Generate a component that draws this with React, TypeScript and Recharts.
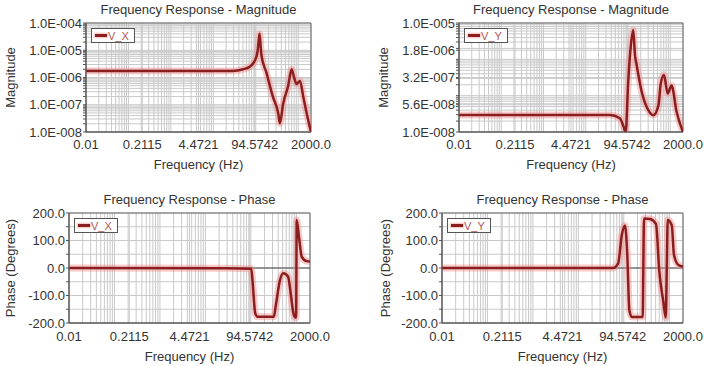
import React from 'react';
import {
  LineChart,
  Line,
  XAxis,
  YAxis,
  CartesianGrid,
  ReferenceLine,
  ReferenceArea
} from 'recharts';

// x axis (Hz), log scale
const xTicks = [0.01, 0.2115, 4.4721, 94.5742, 2000];
const xTickLabels = ['0.01', '0.2115', '4.4721', '94.5742', '2000.0'];

// y ticks
const magXTicks = [1e-8, 1e-7, 1e-6, 1e-5, 1e-4];
const magYTicks = [1e-8, 5.6234e-8, 3.1623e-7, 1.7783e-6, 1e-5];
const phaseTicks = [-200, -100, 0, 100, 200];

// Magnitude V_X
const magXFreq = [0.01, 28, 50, 72, 94, 110, 118, 123, 135, 178, 255, 339, 369, 442, 580, 698, 800, 912, 1100, 1320, 1585, 2000];
const magXValue = [1.75e-6, 1.75e-6, 2.0e-6, 2.5e-6, 4e-6, 9e-6, 2.5e-5, 4e-5, 7e-6, 1.5e-6, 1.9e-7, 4.8e-8, 2.1e-8, 1.1e-7, 5e-7, 2e-6, 1e-6, 5.8e-7, 7.5e-7, 1.9e-7, 4.8e-8, 1e-8];

// Magnitude V_Y
const magYFreq = [0.01, 37, 64, 77, 88, 101, 117, 133, 146, 160, 210, 302, 398, 525, 590, 708, 870, 1070, 1410, 2000];
const magYValue = [2.95e-8, 2.95e-8, 2.4e-8, 1.5e-8, 1e-8, 2.4e-7, 2.5e-6, 6.4e-6, 1.3e-6, 7e-7, 1.3e-7, 4e-8, 2.9e-8, 5.5e-8, 2e-7, 3.7e-7, 1.15e-7, 1.9e-7, 3.6e-8, 1e-8];

// Phase V_X
const phaseXFreq = [0.01, 28, 102, 108, 125, 140, 320, 355, 437, 518, 660, 751, 851, 937, 990, 1020, 1150, 1320, 1700, 2000];
const phaseXValue = [0, -1, -3, -40, -165, -177, -177, -135, -44, -19, -32, -91, -159, -180, -180, 175, 110, 40, 25, 24];

// Phase V_Y
const phaseYFreq = [0.01, 58, 75, 90, 106, 119, 132, 149, 260, 268, 277, 376, 509, 603, 738, 834, 880, 923, 1130, 1268, 1578, 2000];
const phaseYValue = [0, 0, 17, 120, 155, 47, -153, -178, -178, 0, 180, 178, 160, -13, -122, -180, 0, 175, 156, 47, 11, 5];

const FONT = '"Liberation Sans", Arial, sans-serif';
const TEXT = '#333';
const LINE = '#8a1e1e';
const HALO = '#f08a8a';

// log gridline positions (1..9 x 10^n)
const logMinors = (lo: number, hi: number) => {
  const out: number[] = [];
  for (let n = -9; n <= 4; n++) {
    for (let k = 1; k <= 9; k++) {
      const v = Number((k * Math.pow(10, n)).toPrecision(6));
      if (v >= lo * 0.9999 && v <= hi * 1.0001) out.push(v);
    }
  }
  return out;
};

const merge = (a: number[], b: number[]) =>
  Array.from(new Set([...a, ...b])).sort((p, q) => p - q);

const fmtExp = (v: number) => {
  const [m, e] = v.toExponential(1).split('e');
  const n = Number(e);
  return `${m}E${n < 0 ? '-' : '+'}${String(Math.abs(n)).padStart(3, '0')}`;
};

const gridX = merge(xTicks, logMinors(0.01, 2000));
const xFormatter = (v: number) => {
  const i = xTicks.indexOf(v);
  return i >= 0 ? xTickLabels[i] : '';
};

const toRows = (f: number[], v: number[]) => f.map((x, i) => ({ f: x, v: v[i] }));

interface PanelProps {
  left: number;
  top: number;
  width: number;
  height: number;
  plot: { l: number; t: number; r: number; b: number };
  title: string;
  titleY: number;
  yLabel: string;
  yLabelX: number;
  xLabelOffset: number;
  xTickMargin: number;
  name: string;
  data: { f: number; v: number }[];
  yLog: boolean;
  yDomain: [number, number];
  yTicks: number[];
  yFormatter: (v: number) => string;
}

const Panel = (p: PanelProps) => {
  const { l, t, r, b } = p.plot;
  const plotW = r - l;
  return (
    <div style={{ position: 'absolute', left: p.left, top: p.top, width: p.width, height: p.height }}>
      <div
        style={{
          position: 'absolute',
          left: l,
          width: plotW,
          top: p.titleY - 8,
          height: 16,
          lineHeight: '16px',
          textAlign: 'center',
          fontSize: 13,
          color: TEXT,
          fontFamily: FONT
        }}
      >
        {p.title}
      </div>
      <LineChart
        width={p.width}
        height={p.height}
        data={p.data}
        margin={{ top: t, right: p.width - r, left: 0, bottom: 0 }}
        style={{ fontFamily: FONT }}
      >
        <CartesianGrid stroke="#c9c9c9" strokeWidth={1} />
        <XAxis
          dataKey="f"
          type="number"
          scale="log"
          domain={[0.01, 2000]}
          allowDataOverflow
          ticks={gridX}
          interval={0}
          tickFormatter={xFormatter}
          tickLine={false}
          tickSize={2}
          tickMargin={p.xTickMargin}
          height={p.height - b}
          axisLine={{ stroke: '#555' }}
          tick={{ fontSize: 13, fill: TEXT }}
          label={{ value: 'Frequency (Hz)', position: 'insideBottom', offset: p.xLabelOffset, fontSize: 13, fill: TEXT }}
        />
        <YAxis
          type="number"
          scale={p.yLog ? 'log' : 'linear'}
          domain={p.yDomain}
          allowDataOverflow
          ticks={p.yTicks}
          interval={0}
          tickFormatter={p.yFormatter}
          tickSize={3}
          tickMargin={1}
          width={l}
          axisLine={{ stroke: '#555' }}
          tickLine={{ stroke: '#555' }}
          tick={{ fontSize: 13, fill: TEXT }}
          label={{
            value: p.yLabel,
            angle: -90,
            position: 'insideLeft',
            offset: p.yLabelX,
            fontSize: 13,
            fill: TEXT,
            style: { textAnchor: 'middle' }
          }}
        />
        {!p.yLog && <ReferenceLine y={0} stroke="#444" strokeWidth={1} />}
        <ReferenceArea
          x1={0.01}
          x2={2000}
          y1={p.yDomain[0]}
          y2={p.yDomain[1]}
          fill="none"
          stroke="#666"
          strokeWidth={1}
          fillOpacity={0}
        />
        <Line
          dataKey="v"
          type="monotone"
          stroke={HALO}
          strokeOpacity={0.45}
          strokeWidth={7}
          dot={false}
          activeDot={false}
          isAnimationActive={false}
          legendType="none"
        />
        <Line
          dataKey="v"
          name={p.name}
          type="monotone"
          stroke={LINE}
          strokeWidth={2.5}
          dot={false}
          activeDot={false}
          isAnimationActive={false}
        />
      </LineChart>
      <div
        style={{
          position: 'absolute',
          left: l + 5,
          top: t + 5,
          width: 44,
          height: 15,
          border: '1px solid #555',
          background: '#fff',
          boxSizing: 'border-box',
          display: 'flex',
          alignItems: 'center',
          paddingLeft: 3,
          fontFamily: FONT,
          fontSize: 11,
          color: '#b05858'
        }}
      >
        <span
          style={{
            display: 'inline-block',
            width: 12,
            height: 3,
            background: LINE,
            boxShadow: '0 0 2px 1px rgba(240,138,138,0.6)',
            marginRight: 1
          }}
        />
        {p.name}
      </div>
    </div>
  );
};

const magXGrid = merge(magXTicks, logMinors(1e-8, 1e-4));
const magYGrid = merge(magYTicks, logMinors(1e-8, 1e-5));
const phaseGrid = [-200, -150, -100, -50, 0, 50, 100, 150, 200];

const magXFormatter = (v: number) => (magXTicks.indexOf(v) >= 0 ? fmtExp(v) : '');
const magYFormatter = (v: number) => (magYTicks.indexOf(v) >= 0 ? fmtExp(v) : '');
const phaseFormatter = (v: number) => (phaseTicks.indexOf(v) >= 0 ? v.toFixed(1) : '');

const App = () => {
  return (
    <div style={{ position: 'absolute', left: 0, top: 0, width: 711, height: 366, background: '#fff', overflow: 'hidden' }}>
      <Panel
        left={0}
        top={0}
        width={355}
        height={183}
        plot={{ l: 86, t: 23, r: 311, b: 132 }}
        title="Frequency Response - Magnitude"
        titleY={9.5}
        yLabel="Magnitude"
        yLabelX={10}
        xLabelOffset={14.5}
        xTickMargin={6}
        name="V_X"
        data={toRows(magXFreq, magXValue)}
        yLog
        yDomain={[1e-8, 1e-4]}
        yTicks={magXGrid}
        yFormatter={magXFormatter}
      />
      <Panel
        left={355}
        top={0}
        width={356}
        height={183}
        plot={{ l: 104, t: 23, r: 328, b: 132 }}
        title="Frequency Response - Magnitude"
        titleY={9.5}
        yLabel="Magnitude"
        yLabelX={28}
        xLabelOffset={14.5}
        xTickMargin={6}
        name="V_Y"
        data={toRows(magYFreq, magYValue)}
        yLog
        yDomain={[1e-8, 1e-5]}
        yTicks={magYGrid}
        yFormatter={magYFormatter}
      />
      <Panel
        left={0}
        top={183}
        width={355}
        height={183}
        plot={{ l: 69, t: 30, r: 310, b: 140 }}
        title="Frequency Response - Phase"
        titleY={16.7}
        yLabel="Phase (Degrees)"
        yLabelX={10}
        xLabelOffset={5.5}
        xTickMargin={7}
        name="V_X"
        data={toRows(phaseXFreq, phaseXValue)}
        yLog={false}
        yDomain={[-200, 200]}
        yTicks={phaseGrid}
        yFormatter={phaseFormatter}
      />
      <Panel
        left={355}
        top={183}
        width={356}
        height={183}
        plot={{ l: 87, t: 30, r: 328, b: 140 }}
        title="Frequency Response - Phase"
        titleY={16.7}
        yLabel="Phase (Degrees)"
        yLabelX={30}
        xLabelOffset={5.5}
        xTickMargin={7}
        name="V_Y"
        data={toRows(phaseYFreq, phaseYValue)}
        yLog={false}
        yDomain={[-200, 200]}
        yTicks={phaseGrid}
        yFormatter={phaseFormatter}
      />
    </div>
  );
};

export default App;
